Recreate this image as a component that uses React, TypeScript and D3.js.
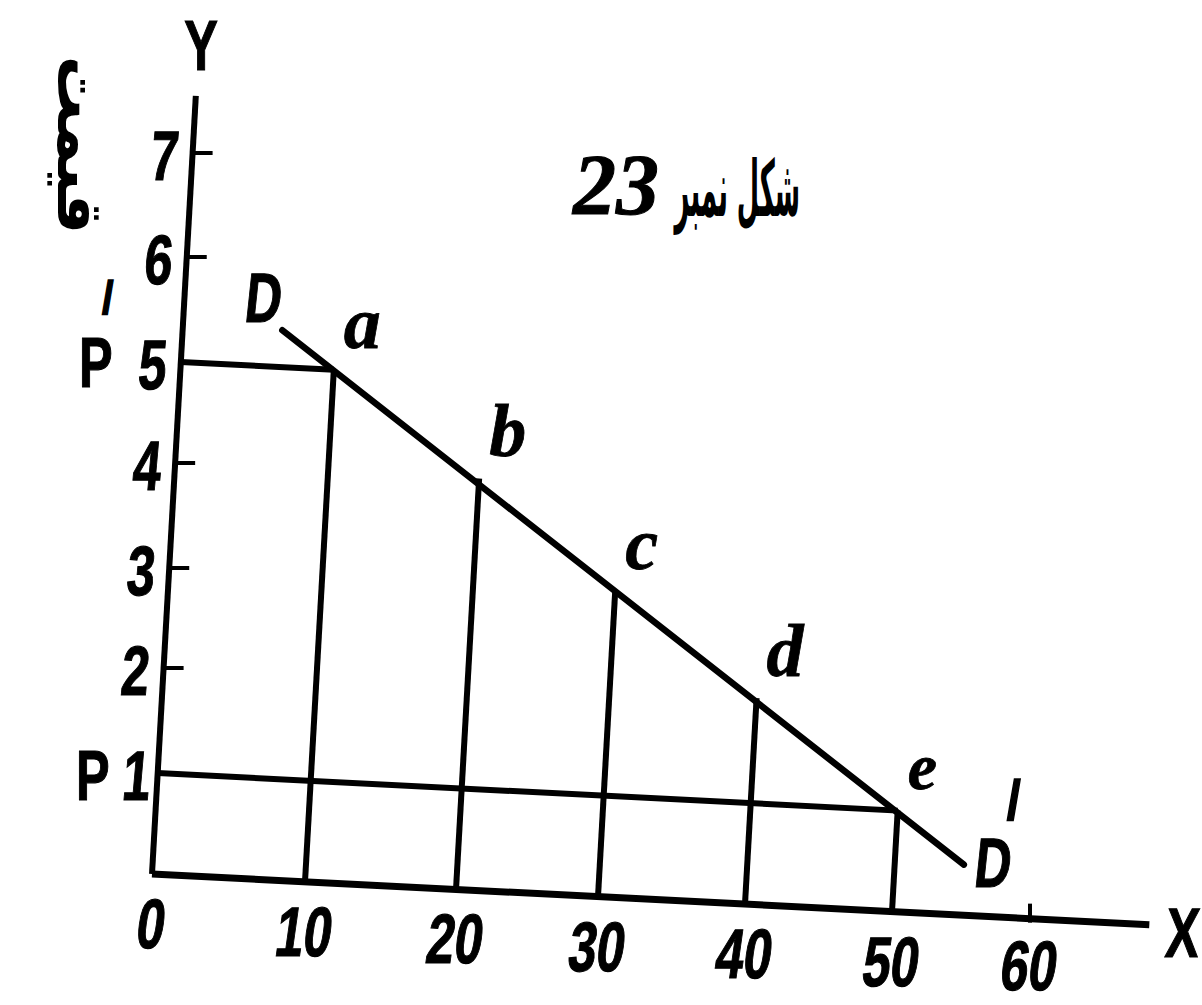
import React from "react";
import * as d3 from "d3";

// Demand schedule: quantity demanded at each price
const quantities = [10, 20, 30, 40, 50];
const prices = [5, 4, 3, 2, 1];
const pointLabels = ["a", "b", "c", "d", "e"];

// Demand line DD' end points (quantity, price)
const demandQ = [6.5, 55];
const demandP = [5.35, 0.5];

// Axis ticks
const xTicks = [0, 10, 20, 30, 40, 50, 60];
const yTickMarks = [2, 3, 4, 6, 7];
const yTickLabels = [1, 2, 3, 4, 5, 6, 7];

const W = 1202;
const H = 1005;

// Hand-ruled oblique axes: origin, piecewise scales along each axis
const origin = { x: 152, y: 874 };
const xs = d3
  .scaleLinear()
  .domain([0, 10, 20, 30, 40, 50, 60, 68])
  .range([0, 153, 304, 446, 593, 740, 878, 993]);
const ys = d3
  .scaleLinear()
  .domain([0, 1, 2, 3, 4, 5, 6, 7, 8])
  .range([0, 101, 206, 306, 411, 512, 617, 721, 825]);
const xDrop = 0.75 / 14.75; // x-axis falls slightly to the right
const yLean = 5.8 / 103; // y-axis leans slightly to the right

function pt(q: number, p: number): [number, number] {
  const a = xs(q);
  const b = ys(p);
  return [origin.x + a + b * yLean, origin.y + a * xDrop - b];
}

const line = d3.line<[number, number]>();

const INK = "#000";
const numFont = "'Liberation Sans', Arial, sans-serif";
const serifFont = "'Liberation Serif', 'Times New Roman', serif";

function Glyph({
  x,
  y,
  text,
  size = 70,
  sx = 0.72,
  skew = 0,
  anchor = "middle",
  family = numFont,
  weight = 700,
  italic = false,
  heavy = 1.2,
}: {
  x: number;
  y: number;
  text: string;
  size?: number;
  sx?: number;
  skew?: number;
  anchor?: string;
  family?: string;
  weight?: number;
  italic?: boolean;
  heavy?: number;
}) {
  return (
    <text
      transform={`translate(${x},${y}) skewX(${skew}) scale(${sx},1)`}
      textAnchor={anchor as any}
      fontFamily={family}
      fontWeight={weight}
      fontStyle={italic ? "italic" : "normal"}
      fontSize={size}
      fill={INK}
      stroke={INK}
      strokeWidth={heavy}
    >
      {text}
    </text>
  );
}

export default function App() {
  const sw = 6;
  const xAxisEnd = pt(68.3, 0);
  const yAxisEnd = pt(0, 7.55);
  const o = pt(0, 0);
  const dStart = pt(demandQ[0], demandP[0]);
  const dEnd = pt(demandQ[1], demandP[1]);
  const pPrime = pt(0, prices[0]);
  const p1 = pt(0, prices[prices.length - 1]);

  return (
    <svg
      width={W}
      height={H}
      viewBox={`0 0 ${W} ${H}`}
      style={{ position: "absolute", left: 0, top: 0, background: "#fff" }}
    >
      <rect width={W} height={H} fill="#fff" />

      {/* axes */}
      <path d={line([o, xAxisEnd]) || ""} stroke={INK} strokeWidth={sw + 1} fill="none" />
      <path d={line([o, yAxisEnd]) || ""} stroke={INK} strokeWidth={sw} fill="none" />

      {/* y tick stubs */}
      {yTickMarks.map((v) => {
        const a = pt(0, v);
        return (
          <path
            key={`yt${v}`}
            d={line([a, [a[0] + 20, a[1]]]) || ""}
            stroke={INK}
            strokeWidth={4}
          />
        );
      })}

      {/* x tick stub at 60 */}
      {(() => {
        const a = pt(xTicks[xTicks.length - 1], 0);
        return <path d={line([[a[0], a[1] - 15], [a[0], a[1] + 4]]) || ""} stroke={INK} strokeWidth={4} />;
      })()}

      {/* price lines P' and P1 */}
      <path
        d={line([pt(0, prices[0]), pt(quantities[0], prices[0])]) || ""}
        stroke={INK}
        strokeWidth={sw}
        fill="none"
      />
      <path
        d={line([pt(0, prices[4]), pt(quantities[4], prices[4])]) || ""}
        stroke={INK}
        strokeWidth={sw}
        fill="none"
      />

      {/* quantity verticals */}
      {quantities.map((q, i) => (
        <path
          key={`v${q}`}
          d={line([pt(q, 0), pt(q, prices[i])]) || ""}
          stroke={INK}
          strokeWidth={sw}
          fill="none"
        />
      ))}

      {/* demand line DD' */}
      <path d={line([dStart, dEnd]) || ""} stroke={INK} strokeWidth={sw + 0.5} fill="none" strokeLinecap="round" />

      {/* point labels */}
      {quantities.map((q, i) => {
        const a = pt(q, prices[i]);
        return (
          <Glyph
            key={`pl${q}`}
            x={a[0] + 10}
            y={a[1] - 22}
            text={pointLabels[i]}
            size={i === 4 ? 66 : 74}
            sx={1}
            anchor="start"
            family={serifFont}
            italic
            heavy={0.8}
          />
        );
      })}

      {/* x tick labels */}
      {xTicks.map((v) => {
        const a = pt(v, 0);
        return (
          <Glyph
            key={`xl${v}`}
            x={a[0] - 4}
            y={a[1] + (v === 60 ? 71 : 74)}
            text={String(v)}
            skew={-8}
          />
        );
      })}

      {/* y tick labels */}
      {yTickLabels.map((v) => {
        const a = pt(0, v);
        return <Glyph key={`yl${v}`} x={a[0] - (v === 1 ? 23 : 30)} y={a[1] + 27} text={String(v)} skew={-5} />;
      })}

      {/* P' and P labels */}
      <Glyph x={pPrime[0] - 85} y={pPrime[1] + 25} text="P" />
      <Glyph x={pPrime[0] - 73} y={pPrime[1] - 48} text="/" size={46} sx={0.9} heavy={1.5} />
      <Glyph x={p1[0] - 65} y={p1[1] + 27} text="P" />

      {/* D and D' labels */}
      <Glyph x={dStart[0] - 21} y={dStart[1] - 8} text="D" skew={-6} />
      <Glyph x={dEnd[0] + 27} y={dEnd[1] + 22} text="D" skew={-6} />
      <Glyph x={dEnd[0] + 50} y={dEnd[1] - 46} text="/" size={56} sx={0.9} heavy={1.5} />

      {/* axis names */}
      <Glyph x={201} y={70} text="Y" />
      <Glyph x={1181} y={957} text="X" skew={-4} />

      {/* title: figure 23 */}
      <text
        transform="translate(800,216) scale(0.33,1)"
        textAnchor="end"
        fontFamily="'DejaVu Sans', sans-serif"
        fontWeight={700}
        fontSize={78}
        fill={INK}
      >
        شکل نمبر
      </text>
      <Glyph x={616} y={214} text="23" size={86} sx={1} family={serifFont} italic heavy={1} />

      {/* vertical price caption */}
      <text
        transform="translate(58,145) rotate(90)"
        textAnchor="middle"
        fontFamily="'DejaVu Sans', sans-serif"
        fontWeight={700}
        fontSize={64}
        fill={INK}
      >
        قیمت
      </text>
    </svg>
  );
}
